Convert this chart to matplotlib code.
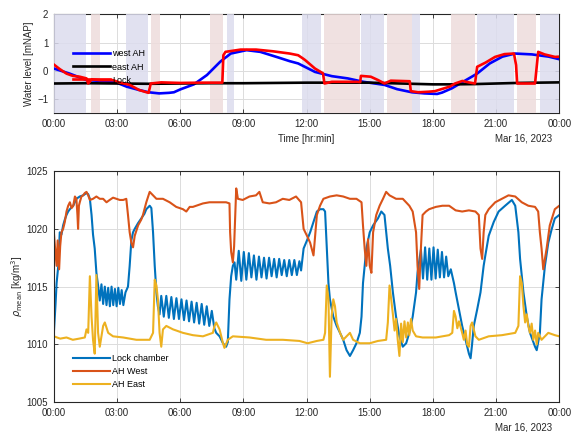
import matplotlib
matplotlib.use("Agg")
import matplotlib.pyplot as plt

plt.rcParams['font.family'] = ['Liberation Sans', 'DejaVu Sans']

# ---- tick labels ----
tick_hours = [0, 3, 6, 9, 12, 15, 18, 21, 24]
tick_labels = ['00:00', '03:00', '06:00', '09:00', '12:00', '15:00', '18:00', '21:00', '00:00']
date_label = 'Mar 16, 2023'

# ---- top panel: water levels [mNAP] ----
west_t = [0.0, 0.75, 1.55, 2.3, 2.95, 3.45, 4.05, 4.5, 5.0, 5.47, 5.7, 6.0, 6.65, 7.27,
          7.9, 8.4, 9.15, 9.8, 10.66, 11.2, 11.6, 12.4, 13.2, 13.96, 14.7, 15.7, 16.3,
          17.0, 17.6, 18.2, 18.44, 18.9, 19.5, 20.1, 20.7, 21.3, 21.9, 22.7, 23.5, 24.0]
west_v = [0.08, -0.1, -0.33, -0.36, -0.41, -0.56, -0.68, -0.76, -0.8, -0.78, -0.76, -0.66,
          -0.48, -0.15, 0.32, 0.61, 0.73, 0.67, 0.47, 0.34, 0.26, -0.04, -0.19, -0.27, -0.39,
          -0.5, -0.65, -0.76, -0.8, -0.82, -0.77, -0.62, -0.36, -0.1, 0.26, 0.5, 0.61, 0.58,
          0.5, 0.41]

east_t = [0.0, 1.5, 3.0, 4.5, 6.0, 7.5, 9.0, 10.5, 12.0, 13.5, 15.0, 16.5, 18.0, 19.0,
          20.0, 21.0, 22.0, 23.0, 24.0]
east_v = [-0.45, -0.44, -0.45, -0.46, -0.45, -0.44, -0.44, -0.43, -0.42, -0.42, -0.42,
          -0.45, -0.48, -0.48, -0.47, -0.45, -0.43, -0.42, -0.41]

lock_t = [0.0, 0.28, 0.6, 0.9, 1.23, 1.55, 1.63, 1.8, 2.17, 2.8, 3.1, 3.6, 4.05, 4.4, 4.5,
          4.6, 5.1, 6.0, 7.0, 8.0, 8.05, 8.15, 8.87, 9.6, 10.4, 11.2, 11.6, 11.8, 11.93, 12.4,
          12.78, 12.85, 13.2, 14.4, 14.55, 14.58, 15.05, 15.4, 15.7, 16.0, 16.9, 16.95, 17.3,
          17.8, 18.1, 18.8, 19.05, 19.4, 19.7, 20.0, 20.1, 20.5, 20.95, 21.4, 21.85, 21.95,
          22.0, 22.85, 23.0, 23.3, 23.8, 24.0]
lock_v = [0.22, 0.06, -0.1, -0.18, -0.21, -0.27, -0.45, -0.3, -0.33, -0.33, -0.41, -0.5,
          -0.68, -0.76, -0.78, -0.45, -0.41, -0.43, -0.42, -0.42, 0.55, 0.67, 0.75, 0.75,
          0.69, 0.61, 0.55, 0.45, 0.38, 0.08, -0.09, -0.45, -0.39, -0.39, -0.4, -0.18,
          -0.21, -0.33, -0.45, -0.35, -0.37, -0.72, -0.76, -0.74, -0.72, -0.56, -0.45, -0.36,
          -0.41, -0.45, 0.14, 0.29, 0.49, 0.59, 0.61, 0.2, -0.45, -0.45, 0.67, 0.58, 0.49, 0.5]

# lock operation periods (hours): blue = levelling west side, pink = east side
blue_spans = [(0.0, 1.51), (3.44, 4.48), (8.2, 8.54), (11.8, 12.7), (14.58, 15.7),
              (17.0, 17.4), (20.1, 21.84), (23.07, 24.0)]
pink_spans = [(1.74, 2.17), (4.62, 5.05), (7.4, 8.02), (12.83, 14.53), (15.8, 17.0),
              (18.87, 20.0), (21.98, 22.88)]

# ---- bottom panel: mean density [kg/m3] ----
chamber_t = [0.0, 0.08, 0.13, 0.21, 0.28, 0.36, 0.44, 0.52, 0.6, 0.68, 0.76, 0.92, 1.07,
             1.23, 1.39, 1.55, 1.63, 1.71, 1.79, 1.86, 1.94, 2.02, 2.1,
             2.18, 2.26, 2.34, 2.42, 2.5, 2.58, 2.66, 2.74, 2.82, 2.9, 2.98, 3.06, 3.14,
             3.22, 3.3, 3.4, 3.52, 3.6, 3.68, 3.76, 3.84, 4.0, 4.15, 4.3, 4.39, 4.55, 4.63,
             4.71, 4.79, 4.87, 4.94, 5.02,
             5.1, 5.22, 5.34, 5.46, 5.58, 5.7, 5.82, 5.94, 6.06, 6.18, 6.3, 6.42, 6.54, 6.66,
             6.78, 6.9, 7.02, 7.14, 7.26, 7.38, 7.5, 7.62, 7.71, 7.87, 8.03, 8.18, 8.26,
             8.34, 8.42, 8.5,
             8.58, 8.66, 8.78, 8.9, 9.02, 9.14, 9.26, 9.38, 9.5, 9.62, 9.74, 9.86, 9.98,
             10.1, 10.22, 10.34, 10.46, 10.58, 10.7, 10.82, 10.94, 11.06, 11.18, 11.3,
             11.42, 11.54, 11.66, 11.74, 11.86, 12.02, 12.17, 12.33, 12.49, 12.64, 12.8,
             12.88, 12.96, 13.04, 13.11, 13.27, 13.43, 13.59, 13.74, 13.9, 14.06, 14.21,
             14.37, 14.53, 14.61, 14.68, 14.76, 14.84, 15.0, 15.16, 15.39, 15.55, 15.7,
             15.86, 15.97, 16.1, 16.25, 16.41, 16.57, 16.73, 16.88, 17.04, 17.2, 17.27,
             17.43, 17.53, 17.63, 17.73, 17.83, 17.93, 18.03, 18.13, 18.23, 18.33, 18.43,
             18.53, 18.63, 18.73, 18.85, 19.0, 19.08, 19.24, 19.39, 19.55, 19.71, 19.79,
             19.86, 19.94, 20.1, 20.26, 20.41, 20.49, 20.65, 20.89, 21.12, 21.43, 21.75,
             21.91, 22.06, 22.14, 22.3, 22.46, 22.61, 22.85, 22.93, 23.08, 23.16, 23.32,
             23.48, 23.63, 23.79, 24.0]
chamber_v = [1011.0, 1013.5, 1015.3, 1016.8, 1019.7, 1019.5, 1020.3, 1020.8, 1021.2, 1021.5,
             1021.7, 1022.0, 1022.6, 1022.8, 1022.9, 1023.1, 1023.0, 1022.6, 1021.2, 1019.5,
             1018.3, 1016.2, 1015.1,
             1013.8, 1015.2, 1013.5, 1015.0, 1013.4, 1014.9, 1013.3, 1015.0, 1013.4, 1014.8,
             1013.3, 1014.9, 1013.5, 1014.7, 1013.4, 1014.5, 1015.0, 1016.8, 1019.0, 1019.7,
             1020.0, 1020.5, 1020.9, 1021.3, 1021.7, 1022.0, 1021.8, 1019.7, 1016.8, 1014.5,
             1013.3, 1012.6,
             1014.2, 1012.4, 1014.2, 1012.3, 1014.1, 1012.2, 1014.0, 1012.2, 1013.9, 1012.1,
             1013.8, 1012.0, 1013.7, 1011.9, 1013.6, 1011.8, 1013.5, 1011.7, 1013.3, 1011.6,
             1012.9, 1011.4, 1011.0, 1010.7, 1010.1, 1009.8, 1010.2, 1013.9, 1015.9, 1016.8,
             1017.1, 1015.6, 1018.1, 1015.5, 1018.0, 1015.6, 1017.9, 1015.8, 1017.7, 1015.6,
             1017.6, 1015.8, 1017.5, 1015.7, 1017.5, 1015.9, 1017.4, 1015.8, 1017.4, 1016.0,
             1017.3, 1015.9, 1017.3, 1016.0, 1017.3, 1016.0, 1017.2, 1016.4, 1018.3, 1019.0,
             1019.7, 1020.6, 1021.5, 1021.7, 1021.7, 1021.5, 1018.3, 1015.3, 1013.9, 1012.4,
             1011.6, 1011.0, 1010.4, 1009.5, 1009.0, 1009.5, 1010.1, 1011.0, 1012.4, 1015.3,
             1016.8, 1018.3, 1019.7, 1020.3, 1020.9, 1021.5, 1021.2, 1018.3, 1016.8, 1014.5,
             1012.4, 1010.7, 1009.8, 1010.1, 1011.0, 1012.4, 1014.5, 1016.2,
             1018.2, 1015.7, 1018.4, 1015.6, 1018.3, 1015.6, 1018.4, 1015.7, 1018.2, 1015.8,
             1018.0, 1015.8, 1017.6, 1015.9, 1016.5, 1015.3, 1014.5, 1013.0, 1011.6, 1010.4,
             1009.2, 1008.8, 1010.0, 1011.6, 1013.0, 1014.5, 1016.8, 1017.7, 1019.4, 1020.6,
             1021.5, 1022.0, 1022.5, 1022.0, 1019.7, 1017.4, 1014.5, 1012.4, 1011.0, 1009.8,
             1009.5, 1011.0, 1013.9, 1016.8, 1018.8, 1019.9, 1020.9, 1021.2]

west_rho_t = [0.0, 0.05, 0.13, 0.18, 0.25, 0.3, 0.36, 0.44, 0.52, 0.6, 0.68, 0.76, 0.84,
              0.92, 1.0, 1.07, 1.12, 1.15, 1.19, 1.23, 1.31, 1.39, 1.47, 1.55, 1.63, 1.71,
              1.86, 2.02, 2.18, 2.34, 2.5, 2.65, 2.81, 2.97, 3.13, 3.29, 3.44, 3.52, 3.6,
              3.68, 3.76, 3.84, 4.0, 4.15, 4.23, 4.39, 4.55, 4.71, 4.87, 5.18, 5.5, 5.81,
              6.13, 6.29, 6.45, 6.6, 7.08, 7.39, 7.71, 8.18, 8.34, 8.37, 8.42, 8.5, 8.56,
              8.6, 8.66, 8.74, 8.97, 9.29, 9.6, 9.76, 9.92, 10.24, 10.55, 10.87, 11.18, 11.5,
              11.74, 11.86, 12.02, 12.17, 12.33, 12.41, 12.49, 12.64, 12.8, 13.11, 13.43,
              13.74, 14.06, 14.37, 14.61, 14.68, 14.76, 14.84, 14.92, 15.0, 15.08, 15.16,
              15.31, 15.47, 15.63, 15.78, 15.94, 16.25, 16.57, 16.88, 17.04, 17.2, 17.27,
              17.35, 17.43, 17.51, 17.67, 17.82, 18.14, 18.45, 18.77, 19.08, 19.39, 19.71,
              20.02, 20.18, 20.26, 20.34, 20.41, 20.49, 20.65, 20.96, 21.28, 21.59, 21.91,
              22.22, 22.53, 22.85, 23.0, 23.08, 23.16, 23.24, 23.4, 23.55, 23.79, 24.0]
west_rho_v = [1019.7, 1018.5, 1016.8, 1019.0, 1016.5, 1018.5, 1019.7, 1020.0, 1020.6, 1021.5,
              1022.0, 1022.3, 1021.8, 1022.0, 1022.8, 1022.6, 1021.2, 1020.0, 1022.0, 1022.3,
              1022.8, 1022.9, 1023.1, 1023.2, 1022.9, 1022.5, 1022.6, 1022.8, 1022.6, 1022.6,
              1022.3, 1022.5, 1022.7, 1022.6, 1022.5, 1022.5, 1022.6, 1021.2, 1019.7, 1018.8,
              1018.4, 1019.4, 1020.3, 1020.8, 1021.2, 1022.3, 1023.2, 1022.9, 1022.6, 1022.6,
              1022.3, 1021.9, 1021.7, 1021.5, 1021.9, 1021.9, 1022.2, 1022.3, 1022.3, 1022.3,
              1022.2, 1019.7, 1018.0, 1017.1, 1018.5, 1020.5, 1023.5, 1022.6, 1022.5, 1022.8,
              1022.9, 1023.2, 1022.3, 1022.2, 1022.3, 1022.6, 1022.5, 1022.8, 1022.3, 1020.0,
              1019.4, 1018.8, 1017.7, 1019.5, 1021.2, 1022.0, 1022.6, 1022.8, 1022.9, 1022.8,
              1022.6, 1022.6, 1022.3, 1020.3, 1018.3, 1016.8, 1019.1, 1016.8, 1016.2, 1019.7,
              1021.2, 1022.0, 1022.6, 1023.2, 1022.9, 1022.6, 1022.6, 1022.0, 1021.5, 1019.7,
              1016.8, 1014.8, 1018.3, 1021.2, 1021.5, 1021.7, 1021.9, 1022.0, 1022.0, 1021.6,
              1021.5, 1021.6, 1021.5, 1021.2, 1018.3, 1017.4, 1019.7, 1021.2, 1021.7, 1022.3,
              1022.6, 1022.9, 1022.8, 1022.3, 1022.0, 1021.9, 1021.5, 1019.7, 1018.3, 1016.5,
              1018.3, 1020.3, 1021.7, 1022.0]

east_rho_t = [0.0, 0.3, 0.6, 0.9, 1.2, 1.47, 1.55, 1.63, 1.71, 1.79, 1.86, 1.94, 2.02, 2.1,
              2.18, 2.34, 2.42, 2.58, 2.81, 3.29, 3.92, 4.55, 4.71, 4.79, 4.87, 4.94, 5.02,
              5.1, 5.18, 5.34, 5.66, 6.13, 6.6, 7.08, 7.55, 7.63, 7.71, 7.87, 8.03, 8.1,
              8.26, 8.5, 9.29, 10.08, 10.87, 11.66, 12.05, 12.49, 12.8, 12.88, 12.96, 13.04,
              13.11, 13.19, 13.27, 13.35, 13.43, 13.59, 13.74, 13.9, 14.06, 14.21, 14.53,
              15.0, 15.39, 15.78, 15.86, 15.94, 16.02, 16.1, 16.18, 16.25, 16.33, 16.41,
              16.49, 16.57, 16.65, 16.73, 16.81, 16.88, 16.96, 17.04, 17.2, 17.51, 18.14,
              18.77, 18.92, 19.0, 19.08, 19.16, 19.24, 19.39, 19.47, 19.55, 19.63, 19.71,
              19.79, 19.86, 20.02, 20.18, 20.65, 21.28, 21.91, 22.06, 22.14, 22.22, 22.3,
              22.38, 22.46, 22.53, 22.61, 22.69, 22.77, 22.85, 22.93, 23.0, 23.16, 23.48,
              23.79, 24.0]
east_rho_v = [1010.7, 1010.5, 1010.6, 1010.4, 1010.5, 1010.6, 1011.3, 1011.0, 1015.9, 1012.4,
              1010.4, 1009.2, 1016.0, 1011.0, 1009.8, 1011.6, 1011.9, 1011.0, 1010.7, 1010.6,
              1010.4, 1010.4, 1011.0, 1015.6, 1015.1, 1013.9, 1011.0, 1009.8, 1011.3, 1011.6,
              1011.3, 1011.0, 1010.8, 1010.7, 1011.0, 1011.6, 1011.9, 1011.3, 1010.1, 1009.7,
              1010.4, 1010.7, 1010.6, 1010.4, 1010.4, 1010.3, 1010.1, 1010.3, 1010.4, 1011.0,
              1015.1, 1013.9, 1007.2, 1012.4, 1013.9, 1013.3, 1011.9, 1011.0, 1010.4, 1010.7,
              1011.0, 1010.4, 1010.1, 1010.1, 1010.3, 1010.4, 1011.9, 1015.1, 1013.9, 1012.6,
              1011.2, 1012.2, 1010.4, 1009.0, 1011.8, 1010.2, 1012.0, 1010.6, 1011.9, 1010.8,
              1012.2, 1011.2, 1010.7, 1010.6, 1010.6, 1010.8, 1011.0, 1012.9, 1012.4, 1011.4,
              1012.0, 1011.0, 1010.4, 1011.2, 1010.0, 1009.8, 1011.6, 1011.9, 1010.7, 1010.4,
              1010.7, 1010.8, 1011.0, 1011.6, 1015.9, 1015.3, 1013.3, 1011.9, 1012.6, 1011.6,
              1011.0, 1011.8, 1010.4, 1011.2, 1010.0, 1011.0, 1010.4, 1011.0, 1010.8, 1010.7]

frame_col = '#262626'
grid_col = '#dcdcdc'
fs = 7.0

fig = plt.figure(figsize=(5.73, 4.32), dpi=100)
ax1 = fig.add_axes([0.094, 0.738, 0.882, 0.229])
ax2 = fig.add_axes([0.094, 0.069, 0.882, 0.535])

# top panel
for a, b in blue_spans:
    ax1.axvspan(a, b, color='#dcdcee', alpha=0.85, lw=0, zorder=2.6)
for a, b in pink_spans:
    ax1.axvspan(a, b, color='#eedcdc', alpha=0.85, lw=0, zorder=2.6)
ax1.plot(west_t, west_v, color='#0000ff', lw=1.9, label='west AH', zorder=4)
ax1.plot(east_t, east_v, color='black', lw=1.9, label='east AH', zorder=4)
ax1.plot(lock_t, lock_v, color='#ff0000', lw=1.9, label='Lock', zorder=4)
ax1.set_xlim(0, 24)
ax1.set_ylim(-1.5, 2)
ax1.set_yticks([-1, 0, 1, 2])
ax1.set_ylabel('Water level [mNAP]', fontsize=fs, color=frame_col, labelpad=2)
ax1.set_xlabel('Time [hr:min]', fontsize=fs, color=frame_col, labelpad=4)
ax1.legend(loc='upper left', bbox_to_anchor=(0.028, 0.69), frameon=False, fontsize=6.5,
           handlelength=4.2, handletextpad=0.2, borderpad=0, labelspacing=0.45)

# bottom panel
ax2.plot(chamber_t, chamber_v, color='#0072bd', lw=1.5, label='Lock chamber')
ax2.plot(west_rho_t, west_rho_v, color='#d95319', lw=1.5, label='AH West')
ax2.plot(east_rho_t, east_rho_v, color='#edb120', lw=1.5, label='AH East')
ax2.set_xlim(0, 24)
ax2.set_ylim(1005, 1025)
ax2.set_yticks([1005, 1010, 1015, 1020, 1025])
ax2.set_ylabel(r'$\rho_{\mathrm{mean}}$ [kg/m$^3$]', fontsize=fs, color=frame_col, labelpad=1)
ax2.legend(loc='upper left', bbox_to_anchor=(0.028, 0.228), frameon=False, fontsize=6.5,
           handlelength=4.2, handletextpad=0.2, borderpad=0, labelspacing=0.45)

for ax in (ax1, ax2):
    ax.set_xticks(tick_hours)
    ax.set_xticklabels(tick_labels)
    ax.grid(True, color=grid_col, lw=0.7)
    ax.tick_params(direction='in', top=True, right=True, labelsize=fs,
                   colors=frame_col, length=3, width=0.6, pad=4)
    for sp in ax.spines.values():
        sp.set_color(frame_col)
        sp.set_linewidth(0.8)
    ax.text(0.985, -0.255 if ax is ax1 else -0.11, date_label, transform=ax.transAxes,
            ha='right', va='center', fontsize=fs, color=frame_col)

fig.savefig('out.png', dpi=100)
